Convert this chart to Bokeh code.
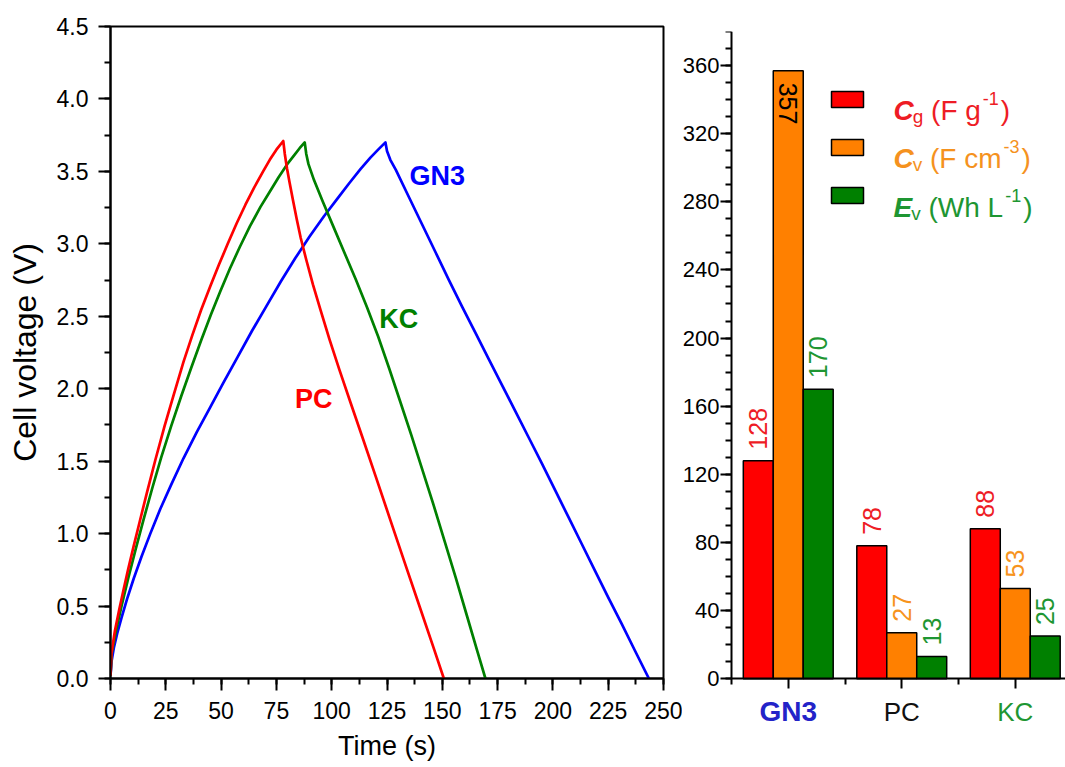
import math
from bokeh.plotting import figure
from bokeh.layouts import row
from bokeh.models import (Range1d, SingleIntervalTicker, FixedTicker, PrintfTickFormatter,
                          CustomJSTickFormatter, Label, Legend, LegendItem, ColumnDataSource)
from bokeh.core.properties import value
from bokeh.embed import file_html
from bokeh.resources import INLINE

FONT = "Liberation Sans"

# ---------------- Left panel data: charge/discharge curves ----------------
time_gn3 = [0, 0.5, 1.5, 3, 5, 7.5, 10.5, 14, 18, 22.5, 27.5, 33, 39, 45, 51, 57.5, 64, 70.5, 77,
            83.5, 90, 96.5, 102.5, 108, 113, 117.5, 121, 124.3,
            125, 126.5, 129, 135, 141, 147, 153, 159, 165, 171, 177, 183, 189, 195, 201, 207,
            213, 219, 225, 231, 237, 243.4]
volt_gn3 = [0.02, 0.12, 0.21, 0.31, 0.42, 0.55, 0.69, 0.84, 1.0, 1.17, 1.34, 1.52, 1.7, 1.87, 2.04,
            2.22, 2.4, 2.57, 2.74, 2.9, 3.05, 3.19, 3.31, 3.42, 3.515, 3.595, 3.65, 3.70,
            3.64, 3.58, 3.51, 3.32, 3.13, 2.94, 2.75, 2.565, 2.385, 2.205, 2.025, 1.845, 1.665,
            1.485, 1.3, 1.115, 0.93, 0.745, 0.56, 0.38, 0.195, 0.0]

time_pc = [0, 0.4, 2, 4, 6, 8, 10.5, 13, 16.5, 20.3, 24.5, 28.6, 33, 37, 41, 45.2, 49, 53, 57,
           61, 65, 69, 72, 75, 78.1,
           78.8, 79.8, 81, 82.5, 84.2, 86, 88.5, 91.5, 95, 99, 103.5, 108.5, 114, 120, 126.6,
           133, 140, 146, 150.7]
volt_pc = [0.02, 0.17, 0.33, 0.48, 0.62, 0.755, 0.915, 1.07, 1.285, 1.51, 1.745, 1.96, 2.185,
           2.37, 2.545, 2.71, 2.855, 3.0, 3.14, 3.27, 3.39, 3.5, 3.58, 3.65, 3.71,
           3.62, 3.52, 3.42, 3.30, 3.17, 3.04, 2.89, 2.72, 2.54, 2.34, 2.13, 1.905, 1.66, 1.39,
           1.09, 0.8, 0.485, 0.215, 0.0]

time_kc = [0, 0.5, 2.5, 5, 8, 11.5, 15, 19, 23, 27.5, 32, 36.5, 41, 45.5, 49.7, 54, 58.5, 63,
           67.8, 72, 76, 79.9, 83, 85.5, 87.8,
           88.5, 89.5, 92, 96, 101, 106, 111, 116, 121, 126, 131, 136, 141, 146, 151, 156, 161,
           166, 169.5]
volt_kc = [0.02, 0.17, 0.33, 0.5, 0.69, 0.9, 1.1, 1.32, 1.53, 1.745, 1.95, 2.145, 2.335, 2.515,
           2.675, 2.83, 2.98, 3.12, 3.255, 3.36, 3.46, 3.55, 3.61, 3.66, 3.70,
           3.62, 3.55, 3.44, 3.29, 3.11, 2.93, 2.75, 2.56, 2.36, 2.14, 1.91, 1.68, 1.44, 1.2,
           0.95, 0.7, 0.44, 0.18, 0.0]

curve_names = ["GN3", "KC", "PC"]
curve_colors = {"GN3": "#0000FF", "KC": "#008000", "PC": "#FF0000"}

# ---------------- Right panel data: bar chart ----------------
samples = ["GN3", "PC", "KC"]
cg_vals = [128, 78, 88]     # C_g (F g-1)
cv_vals = [357, 27, 53]     # C_v (F cm-3)
ev_vals = [170, 13, 25]     # E_v (Wh L-1)

# ---------------- layout constants ----------------
curve_label_pos = {"GN3": (147.7, 3.47), "KC": (130.3, 2.48), "PC": (91.9, 1.93)}
sample_label_style = {"GN3": ("#2323C8", "bold", "28px"),
                      "PC": ("#111111", "normal", "26px"),
                      "KC": ("#1E9632", "normal", "26px")}


def style_axis(ax, tick_size, label_size, standoff, label_standoff, major_out, minor_out):
    ax.axis_line_width = 2
    ax.axis_line_color = "black"
    ax.major_tick_line_width = 2
    ax.minor_tick_line_width = 2
    ax.major_tick_line_color = "black"
    ax.minor_tick_line_color = "black"
    ax.major_tick_in = 0
    ax.minor_tick_in = 0
    ax.major_tick_out = major_out
    ax.minor_tick_out = minor_out
    ax.major_label_text_font = FONT
    ax.major_label_text_font_size = tick_size
    ax.major_label_text_color = "black"
    ax.major_label_standoff = standoff
    ax.axis_label_text_font = FONT
    ax.axis_label_text_font_size = label_size
    ax.axis_label_text_font_style = "normal"
    ax.axis_label_text_color = "black"
    ax.axis_label_standoff = label_standoff


# ================= Left figure =================
p1 = figure(width=682, height=767, x_range=Range1d(0, 250), y_range=Range1d(0, 4.5),
            output_backend="svg", toolbar_location=None,
            min_border_left=110, min_border_right=19, min_border_top=26, min_border_bottom=89,
            background_fill_color="white", border_fill_color="white")
p1.frame_align = False
p1.grid.visible = False
p1.outline_line_color = "black"
p1.outline_line_width = 2
p1.xaxis.ticker = SingleIntervalTicker(interval=25, num_minor_ticks=2)
p1.yaxis.ticker = SingleIntervalTicker(interval=0.5, num_minor_ticks=2)
p1.yaxis.formatter = PrintfTickFormatter(format="%.1f")
p1.xaxis.axis_label = "Time (s)"
p1.yaxis.axis_label = "Cell voltage (V)"
style_axis(p1.xaxis[0], "23px", "27px", 11, 9, 12, 6)
style_axis(p1.yaxis[0], "23px", "32px", 10, 11, 12, 6)

curves = {"GN3": (time_gn3, volt_gn3), "KC": (time_kc, volt_kc), "PC": (time_pc, volt_pc)}
for name in ["GN3", "KC", "PC"]:
    t, v = curves[name]
    p1.line(t, v, line_color=curve_colors[name], line_width=2.7, line_join="round")

p1.text(x=[curve_label_pos[n][0] for n in curve_names],
        y=[curve_label_pos[n][1] for n in curve_names],
        text=curve_names,
        text_color=[curve_colors[n] for n in curve_names],
        text_font=value(FONT), text_font_style="bold", text_font_size="27px",
        text_align="center", text_baseline="middle")

# ================= Right figure =================
n = len(samples)
px_per_group = 113.5          # horizontal pixels per sample group
px_per_unit = 1.703           # vertical pixels per unit
frame_left = 682
p2_w, p2_h, p2_top = 1065 - frame_left, 767, 31
frame_bottom = p2_h
x_lo = -(731 - frame_left) / px_per_group
x_hi = x_lo + p2_w / px_per_group
y_hi = 380
y_lo = y_hi - (p2_h - p2_top) / px_per_unit
p2 = figure(width=p2_w, height=p2_h, x_range=Range1d(x_lo, x_hi), y_range=Range1d(y_lo, y_hi),
            output_backend="svg", toolbar_location=None,
            min_border_left=0, min_border_right=0, min_border_top=p2_top, min_border_bottom=0,
            background_fill_color="white", border_fill_color="white")
p2.frame_align = False
p2.grid.visible = False
p2.outline_line_color = None
p2.yaxis.ticker = SingleIntervalTicker(interval=40, num_minor_ticks=4)
p2.yaxis.fixed_location = 0
p2.yaxis.bounds = (0, y_hi)
p2.xaxis.ticker = FixedTicker(ticks=[i + 0.5 for i in range(n)], minor_ticks=list(range(n + 1)))
p2.xaxis.formatter = CustomJSTickFormatter(code="return ''")
p2.xaxis.fixed_location = 0
p2.xaxis.bounds = (0, n)
style_axis(p2.yaxis[0], "22px", "22px", 1, 0, 11, 6)
style_axis(p2.xaxis[0], "22px", "22px", 2, 0, 10, 6)

bar_w = 0.264
label_len_px = 50
series = [
    (cg_vals, "#FF0000", "#EE1C25"),
    (cv_vals, "#FF8000", "#F7941D"),
    (ev_vals, "#008000", "#1E9632"),
]
offsets = [-bar_w, 0.0, bar_w]
renderers = []
for (vals, fill, tcol), off in zip(series, offsets):
    xs = [i + 0.5 + off for i in range(n)]
    src = ColumnDataSource(dict(x=xs, top=vals))
    r = p2.vbar(x="x", top="top", width=bar_w, source=src,
                fill_color=fill, line_color="black", line_width=1.5)
    renderers.append(r)
    above_x, above_v, in_x, in_v = [], [], [], []
    for x, v in zip(xs, vals):
        if v + label_len_px / px_per_unit > y_hi:
            in_x.append(x); in_v.append(v)
        else:
            above_x.append(x); above_v.append(v)
    if above_x:
        p2.text(x=above_x, y=above_v, text=[str(v) for v in above_v], angle=math.pi / 2,
                text_align="left", text_baseline="middle", y_offset=-11,
                text_color=tcol, text_font=value(FONT), text_font_size="25px")
    if in_x:
        p2.text(x=in_x, y=in_v, text=[str(v) for v in in_v], angle=-math.pi / 2,
                text_align="left", text_baseline="middle", y_offset=12,
                text_color="black", text_font=value(FONT), text_font_size="25px")

# category labels under the bar axis
for i, s in enumerate(samples):
    col, style, size = sample_label_style[s]
    p2.text(x=[i + 0.5], y=[0], text=[s], y_offset=33, text_color=col,
            text_font_style=style, text_font=value(FONT), text_font_size=size,
            text_align="center", text_baseline="middle")

# legend boxes
legend = Legend(items=[LegendItem(label=value(" "), renderers=[r]) for r in renderers],
                location=(827 - frame_left, frame_bottom - 205), orientation="vertical",
                glyph_width=40, glyph_height=20, label_height=20, label_width=0,
                label_standoff=0, spacing=28, padding=0, margin=0,
                border_line_alpha=0, background_fill_alpha=0, label_text_font_size="1px")
p2.add_layout(legend)

# rich-text legend labels
CW = {' ': 0.278, '(': 0.333, ')': 0.333, '-': 0.333, '1': 0.556, '3': 0.556, 'F': 0.611,
      'g': 0.556, 'c': 0.5, 'm': 0.833, 'W': 0.944, 'h': 0.556, 'L': 0.556, 'v': 0.5,
      'C': 0.722, 'E': 0.667}


def tw(s, size):
    return sum(CW.get(ch, 0.556) for ch in s) * size


legend_sym = ["C", "C", "E"]
legend_sub = ["g", "v", "v"]
legend_unit = ["(F g", "(F cm", "(Wh L"]
legend_sup = ["-1", "-3", "-1"]
legend_col = ["#EE1C25", "#F5921E", "#1E9632"]

for i in range(3):
    yb = (frame_bottom - 110) - 48.3 * i
    x0 = 893 - frame_left
    col = legend_col[i]
    p2.add_layout(Label(x=x0, y=yb, x_units="screen", y_units="screen", text=legend_sym[i],
                        text_font=FONT, text_font_size="28px", text_font_style="bold italic",
                        text_color=col, text_align="left", text_baseline="alphabetic"))
    xs = x0 + tw(legend_sym[i], 28) - 1
    p2.add_layout(Label(x=xs, y=yb - 6, x_units="screen", y_units="screen", text=legend_sub[i],
                        text_font=FONT, text_font_size="19px",
                        text_color=col, text_align="left", text_baseline="alphabetic"))
    xu = xs + tw(legend_sub[i], 19) + tw(" ", 28)
    p2.add_layout(Label(x=xu, y=yb, x_units="screen", y_units="screen", text=legend_unit[i],
                        text_font=FONT, text_font_size="28px",
                        text_color=col, text_align="left", text_baseline="alphabetic"))
    xp = xu + tw(legend_unit[i], 28) + 2
    p2.add_layout(Label(x=xp, y=yb + 12, x_units="screen", y_units="screen", text=legend_sup[i],
                        text_font=FONT, text_font_size="18px",
                        text_color=col, text_align="left", text_baseline="alphabetic"))
    xc = xp + tw(legend_sup[i], 18) + 2
    p2.add_layout(Label(x=xc, y=yb, x_units="screen", y_units="screen", text=")",
                        text_font=FONT, text_font_size="28px",
                        text_color=col, text_align="left", text_baseline="alphabetic"))

layout = row(p1, p2)
open("out.html", "w").write(file_html(layout, INLINE, title="GCD curves and capacitance"))
